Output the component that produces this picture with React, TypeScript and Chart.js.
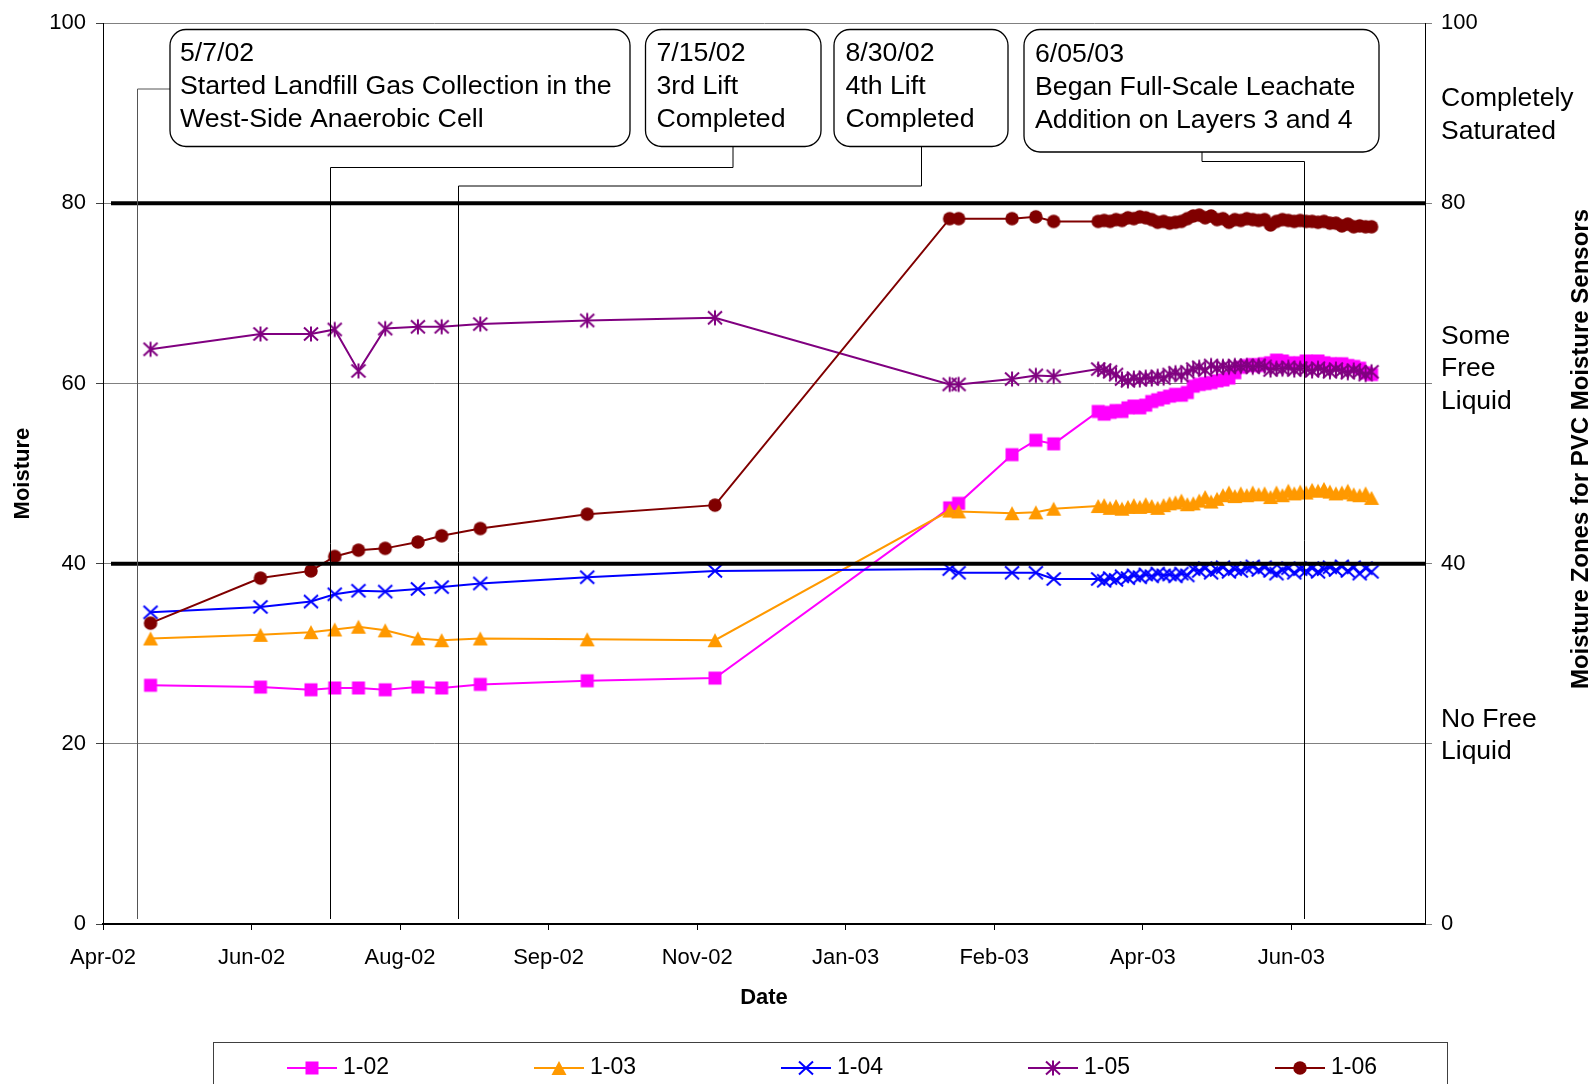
import React, { useEffect, useRef } from 'react';
import { Chart, registerables } from 'chart.js';

Chart.register(...registerables);

const FONT = "'Liberation Sans', Arial, Helvetica, sans-serif";

// ---------- DATA ----------
const AXIS_START = '2002-04-28';
const X_MAX_DAYS = 445;
const X_TICK_STEP_DAYS = 50;
const X_TICK_LABELS = ['Apr-02', 'Jun-02', 'Aug-02', 'Sep-02', 'Nov-02', 'Jan-03', 'Feb-03', 'Apr-03', 'Jun-03'];
const Y_TICKS = [0, 20, 40, 60, 80, 100];
const RIGHT_TICK_LABELS = ['0', '', '40', '', '80', '100'];

const DATES = [
  '2002-05-14', '2002-06-20', '2002-07-07', '2002-07-15', '2002-07-23', '2002-08-01', '2002-08-12', '2002-08-20',
  '2002-09-02', '2002-10-08', '2002-11-20',
  '2003-02-07', '2003-02-10', '2003-02-28', '2003-03-08', '2003-03-14',
  '2003-03-29', '2003-03-31',
  '2003-04-02', '2003-04-04', '2003-04-06', '2003-04-08', '2003-04-10', '2003-04-12', '2003-04-14', '2003-04-16',
  '2003-04-18', '2003-04-20', '2003-04-22', '2003-04-24', '2003-04-26', '2003-04-28', '2003-04-30',
  '2003-05-02', '2003-05-04', '2003-05-06', '2003-05-08', '2003-05-10', '2003-05-12', '2003-05-14', '2003-05-16',
  '2003-05-18', '2003-05-20', '2003-05-22', '2003-05-24', '2003-05-26', '2003-05-28', '2003-05-30',
  '2003-06-01', '2003-06-03', '2003-06-05', '2003-06-07', '2003-06-09', '2003-06-11', '2003-06-13', '2003-06-15',
  '2003-06-17', '2003-06-19', '2003-06-21', '2003-06-23', '2003-06-25', '2003-06-27', '2003-06-29',
];

const S_1_02 = [
  26.5, 26.3, 26.0, 26.2, 26.2, 26.0, 26.3, 26.2, 26.6, 27.0, 27.3,
  46.2, 46.7, 52.1, 53.7, 53.3,
  56.9, 56.6, 56.8, 57.0, 56.9, 57.3, 57.5, 57.3, 57.6, 58.0,
  58.2, 58.4, 58.6, 58.8, 58.7, 59.0, 59.7, 59.9, 60.0, 60.1,
  60.3, 60.4, 60.6, 61.2, 61.8, 62.0, 62.1, 62.0, 62.2, 62.3,
  62.6, 62.5, 62.3, 62.2, 62.3, 62.5, 62.4, 62.5, 62.3, 62.2,
  62.1, 62.2, 62.0, 61.9, 61.7, 61.2, 61.0,
];
const S_1_03 = [
  31.7, 32.1, 32.4, 32.7, 33.0, 32.6, 31.7, 31.5, 31.7, 31.6, 31.5,
  45.9, 45.8, 45.6, 45.7, 46.1,
  46.4, 46.5, 46.2, 46.4, 46.1, 46.3, 46.5, 46.3, 46.6, 46.4,
  46.2, 46.5, 46.7, 46.8, 47.0, 46.6, 46.7, 47.0, 47.4, 46.9,
  47.2, 47.6, 47.9, 47.5, 47.8, 47.6, 47.9, 47.7, 47.8, 47.4,
  47.9, 47.6, 48.1, 47.8, 48.0, 47.9, 48.2, 48.1, 48.3, 48.0,
  47.8, 47.9, 48.1, 47.7, 47.6, 47.8, 47.3,
];
const S_1_04 = [
  34.6, 35.2, 35.8, 36.6, 37.0, 36.9, 37.2, 37.4, 37.8, 38.5, 39.2,
  39.4, 39.0, 39.0, 39.0, 38.3,
  38.3, 38.1, 38.4, 38.2, 38.6, 38.4, 38.7, 38.5, 38.8, 38.6,
  38.9, 38.7, 38.8, 38.6, 38.9, 38.7, 39.4, 39.2, 39.5, 39.0,
  39.3, 39.6, 39.1, 39.4, 39.2, 39.5, 39.7, 39.3, 39.6, 39.2,
  38.9, 39.3, 39.5, 39.0, 39.4, 39.2, 39.5, 39.1, 39.4, 39.6,
  39.3, 39.7, 39.2, 39.6, 38.9, 39.5, 39.1,
];
const S_1_05 = [
  63.8, 65.5, 65.5, 66.0, 61.4, 66.1, 66.3, 66.3, 66.6, 67.0, 67.3,
  59.9, 59.9, 60.5, 60.9, 60.8,
  61.6, 61.5, 61.3, 61.0, 60.5, 60.3, 60.6, 60.4, 60.7, 60.5,
  60.8, 60.6, 61.0, 61.2, 60.9, 61.3, 61.6, 61.8, 61.5, 62.0,
  61.7, 61.9, 61.8, 62.0, 61.9, 62.0, 61.8, 62.0, 61.9, 61.5,
  61.7, 61.6, 61.8, 61.5, 61.7, 61.6, 61.4, 61.7, 61.5, 61.3,
  61.6, 61.4, 61.2, 61.5, 61.3, 61.0, 61.3,
];
const S_1_06 = [
  33.4, 38.4, 39.2, 40.8, 41.5, 41.7, 42.4, 43.1, 43.9, 45.5, 46.5,
  78.3, 78.3, 78.3, 78.5, 78.0,
  78.0, 78.1, 78.0, 78.2, 78.1, 78.4, 78.3, 78.5, 78.4, 78.2,
  77.9, 78.0, 77.8, 77.9, 78.0, 78.3, 78.6, 78.7, 78.4, 78.6,
  78.2, 78.3, 77.9, 78.2, 78.1, 78.3, 78.2, 78.1, 78.2, 77.6,
  78.0, 78.2, 78.1, 78.0, 78.1, 78.0, 78.0, 77.9, 78.0, 77.8,
  77.8, 77.5, 77.7, 77.4, 77.5, 77.4, 77.4,
];

const SERIES_NAMES = ['1-02', '1-03', '1-04', '1-05', '1-06'];
const SERIES_VALUES = [S_1_02, S_1_03, S_1_04, S_1_05, S_1_06];
const SERIES_COLORS = ['#FF00FF', '#FF9900', '#0000FF', '#800080', '#800000'];
const SERIES_MARKERS = ['square', 'triangle', 'x', 'asterisk', 'circle'];

const ZONE_LINE_VALUES = [40, 80];
const ZONE_LABELS = [['Completely', 'Saturated'], ['Some', 'Free', 'Liquid'], ['No Free', 'Liquid']];
const ZONE_LABEL_CENTER_VALUES = [89.8, 61.6, 20.9];

const EVENT_TEXTS = [
  ['5/7/02', 'Started Landfill Gas Collection in the', 'West-Side Anaerobic Cell'],
  ['7/15/02', '3rd Lift', 'Completed'],
  ['8/30/02', '4th Lift', 'Completed'],
  ['6/05/03', 'Began Full-Scale Leachate', 'Addition on Layers 3 and 4'],
];
const EVENT_LINE_DAYS = [11.3, 76.3, 119.4, 404.2];

// ---------- LAYOUT (callout geometry, pixels) ----------
const CALLOUT_LAYOUT = [
  { box: [170, 29.5, 630, 146.5], textX: 180, textY: [54, 87, 119.5], start: [170, 89], joinY: 89, color: '#555' },
  { box: [645.5, 29.5, 821, 146.5], textX: 656.5, textY: [54, 87, 119.5], start: [733, 146.5], joinY: 167.5, color: '#000' },
  { box: [834, 29.5, 1008, 146.5], textX: 845.5, textY: [54, 87, 119.5], start: [921.5, 146.5], joinY: 186, color: '#000' },
  { box: [1024, 29.5, 1379, 152], textX: 1035, textY: [55, 88, 120.5], start: [1202, 152], joinY: 161.5, color: '#000' },
];

const dayOf = (s: string) => {
  const t = (v: string) => Date.UTC(+v.slice(0, 4), +v.slice(5, 7) - 1, +v.slice(8, 10));
  return (t(s) - t(AXIS_START)) / 86400000;
};

function makeMarker(kind: string, color: string): HTMLCanvasElement {
  const c = document.createElement('canvas');
  c.width = 18;
  c.height = 18;
  const g = c.getContext('2d')!;
  g.fillStyle = color;
  g.strokeStyle = color;
  g.lineWidth = 2;
  g.lineCap = 'butt';
  if (kind === 'square') {
    g.fillRect(2.5, 2.5, 13, 13);
  } else if (kind === 'triangle') {
    g.beginPath();
    g.moveTo(9, 2);
    g.lineTo(16.5, 16);
    g.lineTo(1.5, 16);
    g.closePath();
    g.fill();
  } else if (kind === 'x') {
    g.beginPath();
    g.moveTo(2, 2.5); g.lineTo(16, 15.5);
    g.moveTo(16, 2.5); g.lineTo(2, 15.5);
    g.stroke();
  } else if (kind === 'asterisk') {
    g.beginPath();
    g.moveTo(2, 2.5); g.lineTo(16, 15.5);
    g.moveTo(16, 2.5); g.lineTo(2, 15.5);
    g.moveTo(9, 1.5); g.lineTo(9, 16.5);
    g.stroke();
  } else {
    g.beginPath();
    g.arc(9, 9, 6.75, 0, Math.PI * 2);
    g.fill();
  }
  return c;
}

function roundRect(ctx: CanvasRenderingContext2D, x1: number, y1: number, x2: number, y2: number, r: number) {
  ctx.beginPath();
  ctx.moveTo(x1 + r, y1);
  ctx.lineTo(x2 - r, y1);
  ctx.arcTo(x2, y1, x2, y1 + r, r);
  ctx.lineTo(x2, y2 - r);
  ctx.arcTo(x2, y2, x2 - r, y2, r);
  ctx.lineTo(x1 + r, y2);
  ctx.arcTo(x1, y2, x1, y2 - r, r);
  ctx.lineTo(x1, y1 + r);
  ctx.arcTo(x1, y1, x1 + r, y1, r);
  ctx.closePath();
}

const overlayPlugin = {
  id: 'overlay',
  afterDatasetsDraw(chart: any) {
    const { ctx, chartArea: a, scales } = chart;
    const xs = scales.x;
    const ys = scales.y;
    ctx.save();
    // thick zone boundary lines
    ctx.strokeStyle = '#000';
    ctx.lineWidth = 4;
    ZONE_LINE_VALUES.forEach((v) => {
      const py = ys.getPixelForValue(v);
      ctx.beginPath();
      ctx.moveTo(a.left + 8, py);
      ctx.lineTo(a.right + 1, py);
      ctx.stroke();
    });
    // callouts
    EVENT_TEXTS.forEach((lines, i) => {
      const L = CALLOUT_LAYOUT[i];
      const lx = Math.round(xs.getPixelForValue(EVENT_LINE_DAYS[i])) + 0.5;
      ctx.strokeStyle = L.color;
      ctx.lineWidth = 1;
      ctx.beginPath();
      ctx.moveTo(L.start[0], L.start[1]);
      ctx.lineTo(L.start[0], L.joinY);
      ctx.lineTo(lx, L.joinY);
      ctx.lineTo(lx, a.bottom - 5);
      ctx.stroke();
      const [x1, y1, x2, y2] = L.box;
      roundRect(ctx, x1, y1, x2, y2, 16);
      ctx.fillStyle = '#fff';
      ctx.fill();
      ctx.strokeStyle = '#000';
      ctx.lineWidth = 1.3;
      ctx.stroke();
      ctx.fillStyle = '#000';
      ctx.font = `26.7px ${FONT}`;
      ctx.textAlign = 'left';
      ctx.textBaseline = 'middle';
      lines.forEach((t, k) => ctx.fillText(t, L.textX, L.textY[k]));
    });
    ctx.restore();
  },
  afterDraw(chart: any) {
    const { ctx, chartArea: a, scales } = chart;
    const ys = scales.y;
    ctx.save();
    ctx.fillStyle = '#000';
    // zone labels on right
    ctx.font = `26.5px ${FONT}`;
    ctx.textAlign = 'left';
    ctx.textBaseline = 'middle';
    ZONE_LABELS.forEach((lines, i) => {
      const cy = ys.getPixelForValue(ZONE_LABEL_CENTER_VALUES[i]);
      const lh = 32.5;
      const y0 = cy - ((lines.length - 1) * lh) / 2;
      lines.forEach((t, k) => ctx.fillText(t, a.right + 16, y0 + k * lh));
    });
    // axis titles
    ctx.font = `bold 22px ${FONT}`;
    ctx.textAlign = 'center';
    ctx.fillText('Date', (a.left + a.right) / 2, 998);
    ctx.save();
    ctx.translate(22.5, (a.top + a.bottom) / 2);
    ctx.rotate(-Math.PI / 2);
    ctx.fillText('Moisture', 0, 0);
    ctx.restore();
    ctx.save();
    ctx.font = `bold 24px ${FONT}`;
    ctx.translate(1581, 449);
    ctx.rotate(-Math.PI / 2);
    ctx.fillText('Moisture Zones for PVC Moisture Sensors', 0, 0);
    ctx.restore();
    // legend
    ctx.strokeStyle = '#404040';
    ctx.lineWidth = 1;
    ctx.strokeRect(213.5, 1042.5, 1234, 100);
    const ly = 1068;
    chart.data.datasets.forEach((ds: any, i: number) => {
      const x0 = 287 + i * 247;
      ctx.strokeStyle = ds.borderColor;
      ctx.lineWidth = 2;
      ctx.beginPath();
      ctx.moveTo(x0, ly);
      ctx.lineTo(x0 + 50, ly);
      ctx.stroke();
      const m = ds.pointStyle as HTMLCanvasElement;
      ctx.drawImage(m, x0 + 25 - m.width / 2, ly - m.height / 2);
      ctx.fillStyle = '#000';
      ctx.font = `23px ${FONT}`;
      ctx.textAlign = 'left';
      ctx.textBaseline = 'middle';
      ctx.fillText(ds.label, x0 + 56, ly);
    });
    ctx.restore();
  },
};

export default function App() {
  const ref = useRef<HTMLCanvasElement>(null);

  useEffect(() => {
    const canvas = ref.current!;
    const days = DATES.map(dayOf);
    const datasets = SERIES_NAMES.map((name, i) => ({
      label: name,
      data: days.map((d, k) => ({ x: d, y: SERIES_VALUES[i][k] })),
      borderColor: SERIES_COLORS[i],
      backgroundColor: SERIES_COLORS[i],
      borderWidth: 2,
      pointStyle: makeMarker(SERIES_MARKERS[i], SERIES_COLORS[i]) as any,
      pointRadius: 7,
      pointHoverRadius: 7,
      tension: 0,
      order: SERIES_NAMES.length - i,
    }));

    const tickFont = { family: FONT, size: 22 };
    const chart = new Chart(canvas, {
      type: 'line',
      data: { datasets },
      options: {
        responsive: false,
        animation: false,
        events: [],
        layout: { padding: { top: 22, left: 0, right: 0, bottom: 0 } },
        plugins: { legend: { display: false }, tooltip: { enabled: false } },
        scales: {
          x: {
            type: 'linear',
            min: 0,
            max: X_MAX_DAYS,
            afterBuildTicks: (s: any) => {
              s.ticks = X_TICK_LABELS.map((_, i) => ({ value: i * X_TICK_STEP_DAYS }));
            },
            afterFit: (s: any) => { s.height = 160; },
            ticks: {
              callback: (_v: any, i: number) => X_TICK_LABELS[i],
              font: tickFont,
              color: '#000',
              padding: 15,
              maxRotation: 0,
              autoSkip: false,
            },
            grid: { drawOnChartArea: false, drawTicks: true, tickLength: 6, tickColor: '#000' },
            border: { color: '#000', width: 2 },
          },
          y: {
            type: 'linear',
            position: 'left',
            min: 0,
            max: 100,
            afterBuildTicks: (s: any) => { s.ticks = Y_TICKS.map((v) => ({ value: v })); },
            afterFit: (s: any) => { s.width = 103; },
            ticks: { font: tickFont, color: '#000', padding: 10 },
            grid: { color: '#808080', lineWidth: 1, drawTicks: true, tickLength: 7, tickColor: '#404040' },
            border: { color: '#000', width: 1 },
          },
          y1: {
            type: 'linear',
            position: 'right',
            min: 0,
            max: 100,
            afterBuildTicks: (s: any) => { s.ticks = Y_TICKS.map((v) => ({ value: v })); },
            afterFit: (s: any) => { s.width = 168; },
            ticks: {
              font: tickFont,
              color: '#000',
              padding: 9,
              callback: (_v: any, i: number) => RIGHT_TICK_LABELS[i],
            },
            grid: { drawOnChartArea: false, drawTicks: true, tickLength: 7, tickColor: '#808080' },
            border: { color: '#000', width: 1 },
          },
        },
      },
      plugins: [overlayPlugin],
    } as any);

    return () => chart.destroy();
  }, []);

  return (
    <div style={{ position: 'fixed', left: 0, top: 0, width: 1593, height: 1084, background: '#fff' }}>
      <canvas ref={ref} width={1593} height={1084} style={{ display: 'block', width: 1593, height: 1084 }} />
    </div>
  );
}
